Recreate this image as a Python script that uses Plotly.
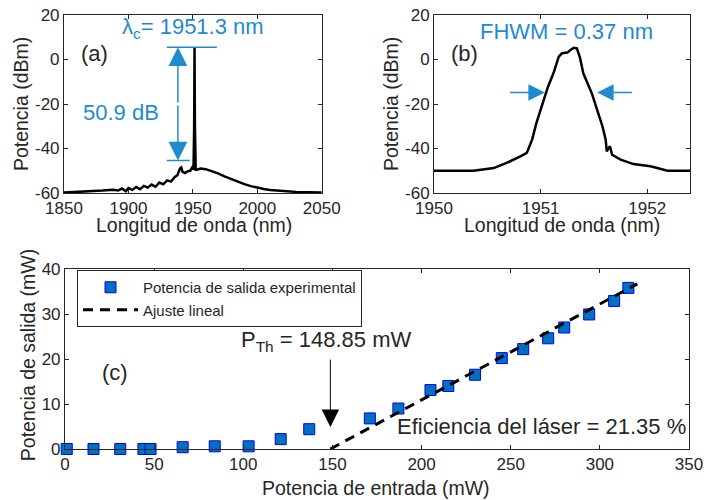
import plotly.graph_objects as go

# ---- Panel (a): full spectrum ----
a_wl = [1850, 1860, 1870, 1880, 1888, 1892, 1895, 1898, 1900, 1903, 1906, 1909, 1912, 1915,
        1918, 1921, 1924, 1927, 1930, 1933, 1936, 1938, 1940, 1941, 1942, 1944, 1946, 1948,
        1949.5, 1950.5, 1951.0, 1951.3, 1951.6, 1952.2, 1953, 1956, 1960, 1965, 1970, 1975,
        1980, 1985, 1990, 1995, 2000, 2005, 2010, 2015, 2020, 2030, 2040, 2050]
a_pw = [-59.8, -59.6, -59.3, -58.9, -58.5, -58.9, -58.0, -59.2, -57.8, -58.6, -57.3, -58.3,
        -56.8, -57.6, -56.2, -57.2, -55.3, -56.1, -54.3, -54.9, -52.8, -52.0, -49.0, -48.5,
        -50.5, -51.0, -50.2, -50.0, -48.5, -49.5, -30.0, 5.4, -30.0, -49.5, -49.5, -49.0,
        -49.3, -50.2, -51.3, -52.6, -53.8, -55.0, -56.0, -56.9, -57.6, -58.2, -58.6, -58.9,
        -59.2, -59.5, -59.7, -59.8]

# ---- Panel (b): zoomed spectrum ----
b_wl = [1950.0, 1950.37, 1950.56, 1950.68, 1950.81, 1950.87, 1950.92, 1950.96, 1951.01,
        1951.07, 1951.12, 1951.17, 1951.20, 1951.25, 1951.28, 1951.31, 1951.34, 1951.37,
        1951.40, 1951.44, 1951.48, 1951.53, 1951.58, 1951.61, 1951.62, 1951.65, 1951.67,
        1951.75, 1951.87, 1952.03, 1952.19, 1952.41]
b_pw = [-50.0, -50.0, -48.8, -46.5, -43.5, -42.0, -36.0, -28.6, -21.1, -12.1, -6.2, 1.3,
        2.8, 3.1, 4.3, 5.3, 5.0, 0.6, -6.2, -10.6, -15.2, -22.6, -30.1, -36.0, -41.3, -39.0,
        -42.8, -45.0, -47.0, -48.0, -50.0, -50.0]

# ---- Panel (c): laser output vs pump ----
pin = [1, 16, 31, 44, 48, 66, 84, 103, 121, 137, 171, 187, 205, 215, 230, 245, 257, 271,
       280, 294, 308, 316]
pout = [0.0, 0.0, 0.0, 0.0, 0.0, 0.4, 0.6, 0.6, 2.2, 4.4, 6.8, 9.0, 13.1, 14.0, 16.5, 20.2,
        22.2, 24.6, 27.0, 29.9, 32.9, 35.8]
fit_x = [148.85, 321]
fit_y = [0.0, 36.7]

# ---- tick labels ----
ticks_dbm = [-60, -40, -20, 0, 20]
ticks_dbm_text = ["-60", "-40", "-20", "0", "20"]
ticks_a_x = [1850, 1900, 1950, 2000, 2050]
ticks_b_x = [1950, 1951, 1952]
ticks_c_x = [0, 50, 100, 150, 200, 250, 300, 350]
ticks_c_y = [0, 10, 20, 30, 40]

FONT = "Liberation Sans, Arial, sans-serif"
AX = "#262626"
BLUE = "#1f8ad0"

fig = go.Figure()
fig.add_trace(go.Scatter(x=a_wl, y=a_pw, mode="lines", line=dict(color="black", width=2.5),
                         xaxis="x", yaxis="y", showlegend=False))
fig.add_trace(go.Scatter(x=b_wl, y=b_pw, mode="lines", line=dict(color="black", width=2.5),
                         xaxis="x2", yaxis="y2", showlegend=False))
fig.add_trace(go.Scatter(x=pin, y=pout, mode="markers", name="Potencia de salida experimental",
                         marker=dict(symbol="square", size=11, color="#0072BD",
                                     line=dict(color="#0000FF", width=1)),
                         cliponaxis=False, xaxis="x3", yaxis="y3"))
fig.add_trace(go.Scatter(x=fit_x, y=fit_y, mode="lines", name="Ajuste lineal",
                         line=dict(color="black", width=3, dash="10px,7px"),
                         xaxis="x3", yaxis="y3"))

def axis(domain, rng, tickvals, anchor, ticktext=None):
    d = dict(domain=domain, range=rng, tickvals=tickvals, anchor=anchor, automargin=False,
             showline=True, linecolor=AX, linewidth=1, mirror="ticks",
             ticks="inside", ticklen=4, tickcolor=AX, showgrid=False, zeroline=False,
             tickfont=dict(size=17, color=AX, family=FONT))
    if ticktext is not None:
        d["ticktext"] = ticktext
    return d

fig.update_layout(
    width=704, height=500, margin=dict(l=0, r=0, t=0, b=0, autoexpand=False),
    plot_bgcolor="white", paper_bgcolor="white",
    font=dict(family=FONT, color=AX),
    xaxis=axis([0.0909, 0.457], [1850, 2050], ticks_a_x, "y"),
    yaxis=axis([0.614, 0.97], [-60, 20], ticks_dbm, "x", ticks_dbm_text),
    xaxis2=axis([0.6165, 0.98], [1950, 1952.4], ticks_b_x, "y2"),
    yaxis2=axis([0.614, 0.97], [-60, 20], ticks_dbm, "x2", ticks_dbm_text),
    xaxis3=axis([0.0923, 0.9787], [0, 350], ticks_c_x, "y3"),
    yaxis3=axis([0.102, 0.462], [0, 40], ticks_c_y, "x3"),
    legend=dict(x=0.1094, y=0.46, xanchor="left", yanchor="top", bgcolor="white",
                bordercolor=AX, borderwidth=1, font=dict(size=15, color=AX, family=FONT),
                itemwidth=55, tracegroupgap=0),
)

# reference lines for the 50.9 dB extinction marker
fig.add_shape(type="line", xref="x", yref="y", x0=1929.8, x1=1968.6, y0=5.5, y1=5.5,
              line=dict(color=BLUE, width=1.5))
fig.add_shape(type="line", xref="x", yref="y", x0=1929.8, x1=1947.7, y0=-45.4, y1=-45.4,
              line=dict(color=BLUE, width=1.5))

TF = dict(size=19.5, color=AX, family=FONT)
C = dict(xanchor="center", yanchor="middle", showarrow=False)
ann = []
# axis titles
ann.append(dict(x=0.2756, y=0.550, xref="paper", yref="paper", text="Longitud de onda (nm)",
                font=TF, **C))
ann.append(dict(x=0.7983, y=0.550, xref="paper", yref="paper", text="Longitud de onda (nm)",
                font=TF, **C))
ann.append(dict(x=0.5341, y=0.024, xref="paper", yref="paper", text="Potencia de entrada (mW)",
                font=TF, **C))
ann.append(dict(x=0.0300, y=0.792, xref="paper", yref="paper", text="Potencia (dBm)",
                font=TF, textangle=-90, **C))
ann.append(dict(x=0.5555, y=0.792, xref="paper", yref="paper", text="Potencia (dBm)",
                font=TF, textangle=-90, **C))
ann.append(dict(x=0.0400, y=0.29, xref="paper", yref="paper", text="Potencia de salida (mW)",
                font=TF, textangle=-90, **C))
# panel a
ann.append(dict(x=1938.4, y=5.5, ax=1938.4, ay=-20, xref="x", yref="y", axref="x", ayref="y",
                showarrow=True, arrowhead=2, arrowsize=2.5, arrowwidth=1.5, arrowcolor=BLUE, text=""))
ann.append(dict(x=1938.4, y=-45.4, ax=1938.4, ay=-20, xref="x", yref="y", axref="x", ayref="y",
                showarrow=True, arrowhead=2, arrowsize=2.5, arrowwidth=1.5, arrowcolor=BLUE, text=""))
ann.append(dict(x=1950.4, y=14.2, xref="x", yref="y", text="λ<sub>c</sub>= 1951.3 nm",
                font=dict(size=22, color=BLUE, family=FONT), **C))
ann.append(dict(x=1894.6, y=-24.0, xref="x", yref="y", text="50.9 dB",
                font=dict(size=22, color=BLUE, family=FONT), **C))
ann.append(dict(x=1874, y=2.9, xref="x", yref="y", text="(a)",
                font=dict(size=22, color=AX, family=FONT), **C))
# panel b
ann.append(dict(x=1951.04, y=-14.8, ax=1950.70, ay=-14.8, xref="x2", yref="y2", axref="x2",
                ayref="y2", showarrow=True, arrowhead=2, arrowsize=2.2, arrowwidth=1.5,
                arrowcolor=BLUE, text=""))
ann.append(dict(x=1951.53, y=-14.8, ax=1951.87, ay=-14.8, xref="x2", yref="y2", axref="x2",
                ayref="y2", showarrow=True, arrowhead=2, arrowsize=2.2, arrowwidth=1.5,
                arrowcolor=BLUE, text=""))
ann.append(dict(x=1951.245, y=12.4, xref="x2", yref="y2", text="FHWM = 0.37 nm",
                font=dict(size=22, color=BLUE, family=FONT), **C))
ann.append(dict(x=1950.29, y=2.9, xref="x2", yref="y2", text="(b)",
                font=dict(size=22, color=AX, family=FONT), **C))
# panel c
ann.append(dict(x=148.85, y=4.9, ax=148.85, ay=20.2, xref="x3", yref="y3", axref="x3",
                ayref="y3", showarrow=True, arrowhead=2, arrowsize=3.5, arrowwidth=1,
                arrowcolor="black", text=""))
ann.append(dict(x=146.3, y=24.0, xref="x3", yref="y3", text="P<sub>Th</sub> = 148.85 mW",
                font=dict(size=22, color=AX, family=FONT), **C))
ann.append(dict(x=27.8, y=16.9, xref="x3", yref="y3", text="(c)",
                font=dict(size=22, color=AX, family=FONT), **C))
ann.append(dict(x=267.4, y=5.1, xref="x3", yref="y3", text="Eficiencia del láser = 21.35 %",
                font=dict(size=22, color=AX, family=FONT), **C))
fig.update_layout(annotations=ann)

fig.write_html("out.html")
